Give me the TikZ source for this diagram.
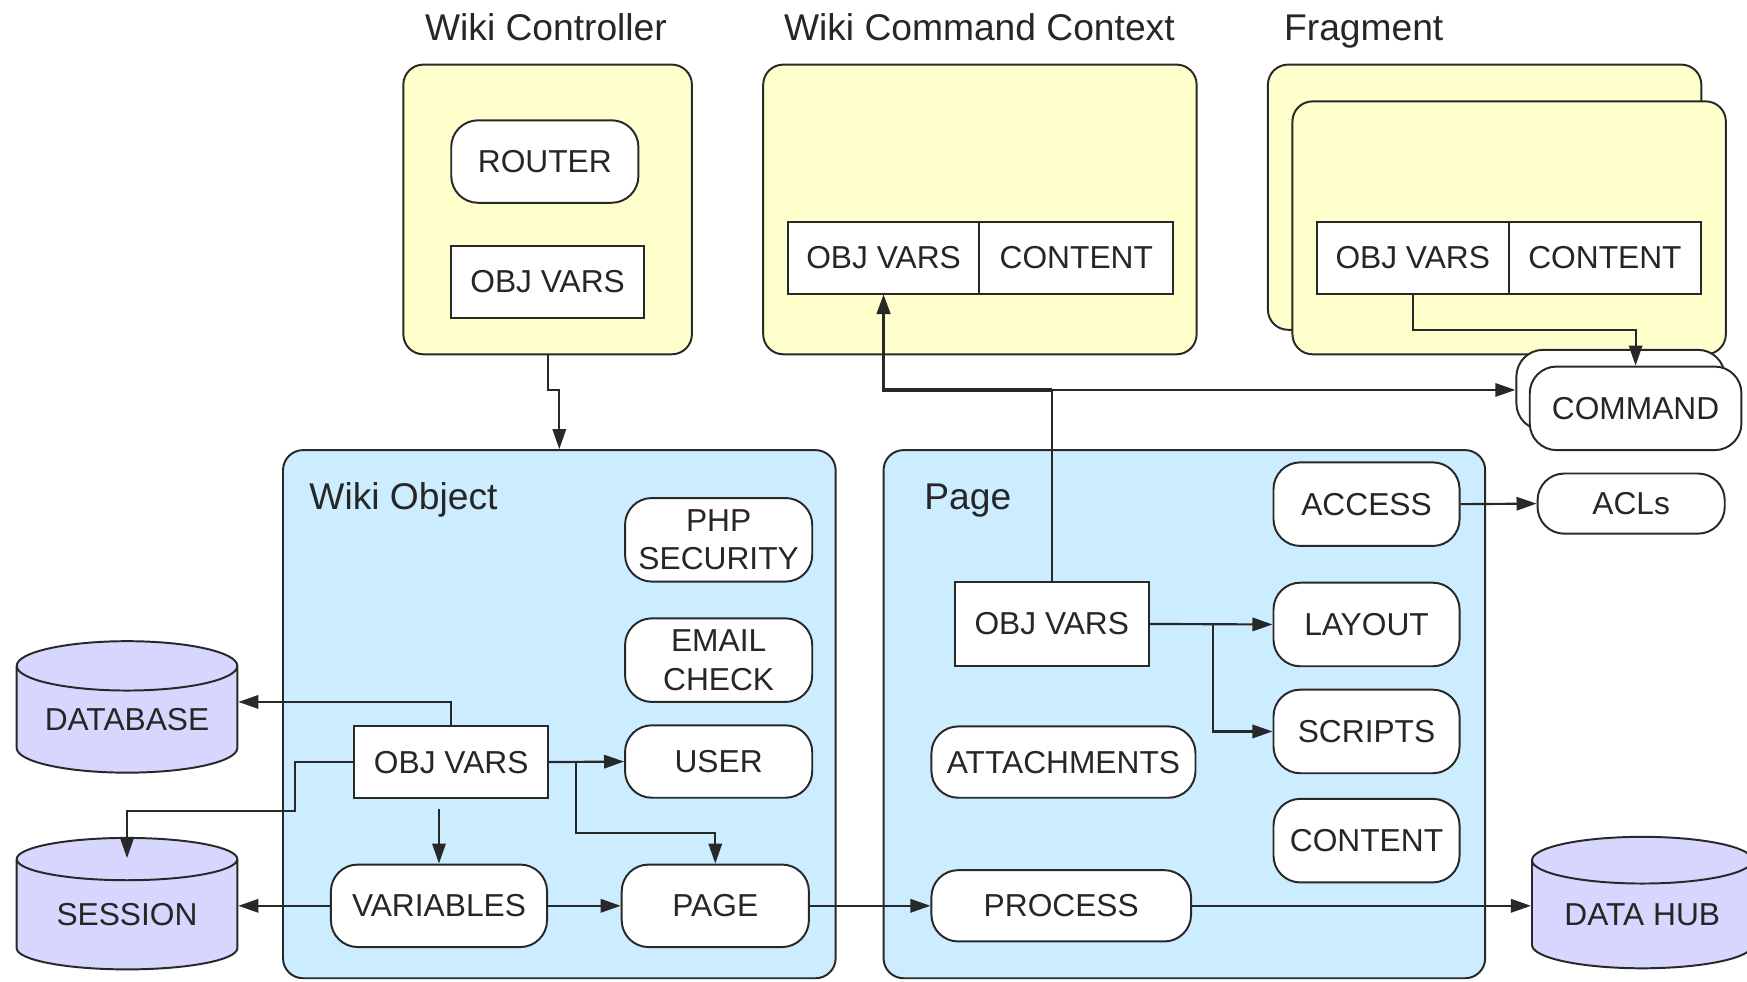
\documentclass[tikz,border=0pt]{standalone}
\usepackage{fontspec}
\setmainfont{Liberation Sans}
\definecolor{ctrlyellow}{RGB}{255, 255, 204}
\definecolor{objblue}{RGB}{204, 236, 255}
\definecolor{storelilac}{RGB}{214, 214, 255}
\definecolor{edgegray}{RGB}{40, 40, 40}
\usepackage{tikz}
\usetikzlibrary{shapes, arrows.meta, positioning, calc}

\tikzset{
  lbl/.style={font=\fontsize{8.1}{9.8}\selectfont, align=center, text=black!85},
  paneltitle/.style={font=\fontsize{9.5}{11}\selectfont, text=black!85, inner sep=0pt, anchor=base},
  yellowpanel/.style={draw=edgegray, line width=0.5pt, fill=ctrlyellow, rounded corners=0.18cm},
  bluepanel/.style={draw=edgegray, line width=0.5pt, fill=objblue, rounded corners=0.18cm},
  pill/.style={lbl, draw=edgegray, line width=0.5pt, fill=white, rounded corners=0.24cm,
    minimum width=1.68cm, minimum height=0.74cm, inner sep=0pt},
  varbox/.style={lbl, draw=edgegray, line width=0.5pt, fill=white, outer sep=0pt,
    minimum width=1.73cm, minimum height=0.65cm, inner sep=0pt},
  store/.style={lbl, cylinder, shape border rotate=90, aspect=0.30, draw=edgegray,
    line width=0.5pt, fill=storelilac, minimum width=1.98cm, minimum height=1.18cm, inner sep=0pt},
  link/.style={-{Triangle[length=0.18cm, width=0.12cm]}, draw=edgegray, line width=0.55pt},
}

\begin{document}
\begin{tikzpicture}
  \useasboundingbox (0,0) rectangle (15.68,-8.81);

  % Top panels
  \node[paneltitle] (ctrltitle) at (4.90,-0.36) {Wiki Controller};
  \node[paneltitle] (cmdtitle) at (8.79,-0.36) {Wiki Command Context};
  \node[paneltitle] (fragtitle) at (12.24,-0.36) {Fragment};
  \node[yellowpanel, minimum width=2.59cm, minimum height=2.60cm] (ctrl) at (4.915,-1.88) {};
  \node[yellowpanel, minimum width=3.89cm, minimum height=2.60cm] (cmdctx) at (8.795,-1.88) {};
  \node[yellowpanel, minimum width=3.89cm, minimum height=2.38cm] (fragback) at (13.325,-1.77) {};
  \node[yellowpanel, minimum width=3.89cm, minimum height=2.27cm] (fragfront) at (13.545,-2.045) {};

  \node[pill] (router) at (4.89,-1.45) {ROUTER};
  \node[varbox] (ctrlvars) at (4.915,-2.53) {OBJ VARS};
  \node[varbox, minimum width=1.72cm] (cmdvars) at (7.93,-2.315) {OBJ VARS};
  \node[varbox, minimum width=1.74cm, right=0pt of cmdvars] (cmdcontent) {CONTENT};
  \node[varbox, minimum width=1.72cm] (fragvars) at (12.68,-2.315) {OBJ VARS};
  \node[varbox, right=0pt of fragvars] (fragcontent) {CONTENT};

  \node[pill, minimum width=1.87cm, minimum height=0.72cm] (cmdback) at (14.545,-3.50) {};
  \node[pill, minimum width=1.90cm, minimum height=0.75cm] (cmdfront) at (14.68,-3.665) {COMMAND};

  % Lower panels
  \node[bluepanel, minimum width=4.96cm, minimum height=4.74cm] (wobj) at (5.02,-6.41) {};
  \node[bluepanel, minimum width=5.40cm, minimum height=4.74cm] (page) at (10.63,-6.41) {};
  \node[paneltitle, anchor=base west] (wobjtitle) at (2.77,-4.57) {Wiki Object};
  \node[paneltitle, anchor=base west] (pagetitle) at (8.29,-4.57) {Page};

  \foreach \y/\h/\name/\txt in {-4.845/0.75/phpsec/{PHP\\SECURITY},
    -5.925/0.75/email/{EMAIL\\CHECK}, -6.835/0.65/user/USER} {
    \node[pill, minimum height=\h cm] (\name) at (6.45,\y) {\txt};
  }
  \node[varbox, minimum width=1.74cm, minimum height=0.64cm] (objvars) at (4.05,-6.84) {OBJ VARS};
  \node[pill, minimum width=1.94cm] (variables) at (3.94,-8.13) {VARIABLES};
  \node[pill] (pagebox) at (6.42,-8.13) {PAGE};

  \foreach \y/\name/\txt in {-4.525/access/ACCESS, -5.605/layout/LAYOUT,
    -6.565/scripts/SCRIPTS, -7.545/content/CONTENT} {
    \node[pill, minimum width=1.67cm, minimum height=0.75cm] (\name) at (12.265,\y) {\txt};
  }
  \node[varbox, minimum width=1.74cm, minimum height=0.76cm] (pagevars) at (9.44,-5.60) {OBJ VARS};
  \node[pill, minimum width=2.37cm, minimum height=0.64cm] (attach) at (9.545,-6.84) {ATTACHMENTS};
  \node[pill, minimum width=2.33cm, minimum height=0.64cm] (process) at (9.525,-8.13) {PROCESS};
  \node[pill, minimum height=0.54cm] (acls) at (14.64,-4.52) {ACLs};

  % Stores
  \node[store] (database) at (1.14,-6.46) {DATABASE};
  \node[store] (session) at (1.14,-8.21) {SESSION};
  \node[store] (datahub) at (14.74,-8.21) {DATA HUB};

  % Connectors
  \draw[link] (ctrl.south) -- ++(0,-0.31) -| (wobj.north);
  \draw[link] (fragvars.south) -- ++(0,-0.32) -| (cmdfront.north);
  \draw[link] (pagevars.north) |- (cmdback.west);
  \draw[link, line width=0.9pt] (pagevars.north |- cmdback.west) -| (cmdvars.south);
  \draw[link] (objvars.north) |- ($(database.east)+(0,0.16)$);
  \draw[link] (objvars.west) -- ++(-0.53,0) -- ++(0,-0.44) -| ($(session.north)+(0,-0.19)$);
  \draw[link, shorten <=0.1cm] (variables.north |- objvars.south) -- (variables.north);
  \draw[link] (objvars.east) -- (user.west);
  \draw[link] ($(objvars.east)+(0.25,0)$) -- ++(0,-0.64) -| (pagebox.north);
  \draw[link] (variables.west) -- (variables.west -| session.east);
  \draw[link] (variables.east) -- (pagebox.west);
  \draw[link] (pagebox.east) -- (process.west);
  \draw[link] (process.east) -- (process.east -| datahub.west);
  \draw[link] (access.east) -- (acls.west);
  \draw[link] (pagevars.east) -- (layout.west);
  \draw[link] ($(pagevars.east)+(0.58,0)$) |- (scripts.west);
\end{tikzpicture}
\end{document}
